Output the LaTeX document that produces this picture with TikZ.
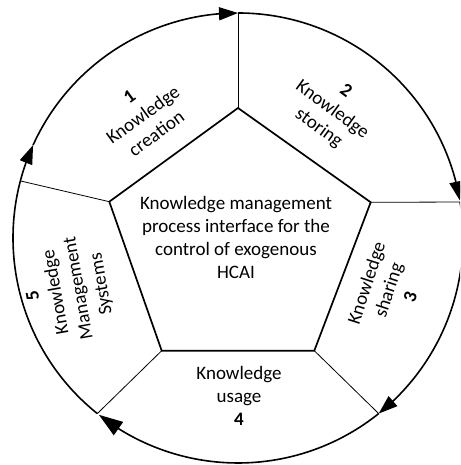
\documentclass[tikz,border=0pt]{standalone}
\usepackage{fontspec}
\setmainfont{Carlito}
\usetikzlibrary{arrows.meta,bending}
\begin{document}
\begin{tikzpicture}[x=1pt,y=1pt,
  cycle arrow/.style={line width=1.6pt,-{Triangle[length=19pt,width=13pt,flex]}},
  spoke/.style={line width=0.8pt},
  core/.style={line width=1.7pt,line join=miter},
  stagetext/.style={align=center,inner sep=0pt,font=\fontsize{19}{23}\selectfont}]
\useasboundingbox (0,0) rectangle (460,465);
\clip (0,0) rectangle (460,465);

% centre of the outer ring
\coordinate (C) at (238,227);

% pentagon corners
\coordinate (pT)  at (238,357);
\coordinate (pRU) at (370.7,262.7);
\coordinate (pRL) at (314.3,114.3);
\coordinate (pLL) at (161.7,114.3);
\coordinate (pLU) at (109.3,263.3);

% where the spokes meet the ring
\coordinate (eT)  at ([shift={(90:225)}]C);
\coordinate (eR)  at ([shift={(9.2:225)}]C);
\coordinate (eBR) at ([shift={(-51.3:225)}]C);
\coordinate (eBL) at ([shift={(231.3:225)}]C);
\coordinate (eL)  at ([shift={(165.3:225)}]C);
% tip of the arrow on the left part of the ring
\coordinate (tL)  at ([shift={(155.6:225)}]C);

% ring arcs, clockwise, each ending in an arrow
\draw[cycle arrow] (eBL) arc[start angle=231.3, end angle=155.6, radius=225];
\draw[cycle arrow] (tL)  arc[start angle=155.6, end angle=90, radius=225];
\draw[cycle arrow] (eT)  arc[start angle=90, end angle=9.6, radius=225];
\draw[cycle arrow] (eR)  arc[start angle=9.2, end angle=-51.3, radius=225];
\draw[cycle arrow,-{Triangle[length=24pt,width=16pt,flex]}] (eBR) arc[start angle=-51.3, end angle=-128.2, radius=225];

% spokes
\draw[spoke] (pT)  -- (eT);
\draw[spoke] (pRU) -- (eR);
\draw[spoke] (pRL) -- (eBR);
\draw[spoke] (pLL) -- (eBL);
\draw[spoke] (pLU) -- (eL);

% central pentagon
\draw[core] (pT) -- (pRU) -- (pRL) -- (pLL) -- (pLU) -- cycle;

% texts
\node[stagetext] (centre) at (236,228) {Knowledge management\\process interface for the\\control of exogenous\\HCAI};
\node[stagetext,rotate=36]  (s1) at (143,350) {\textbf{1}\\Knowledge\\creation};
\node[stagetext,rotate=-36] (s2) at (332,355) {\textbf{2}\\Knowledge\\storing};
\node[stagetext,rotate=72]  (s3) at (388,175) {Knowledge\\sharing\\\textbf{3}};
\node[stagetext]            (s4) at (239,69)  {Knowledge\\usage\\\textbf{4}};
\node[stagetext,rotate=100] (s5) at (68,175)  {\textbf{5}\\Knowledge\\Management\\Systems};
\end{tikzpicture}
\end{document}
